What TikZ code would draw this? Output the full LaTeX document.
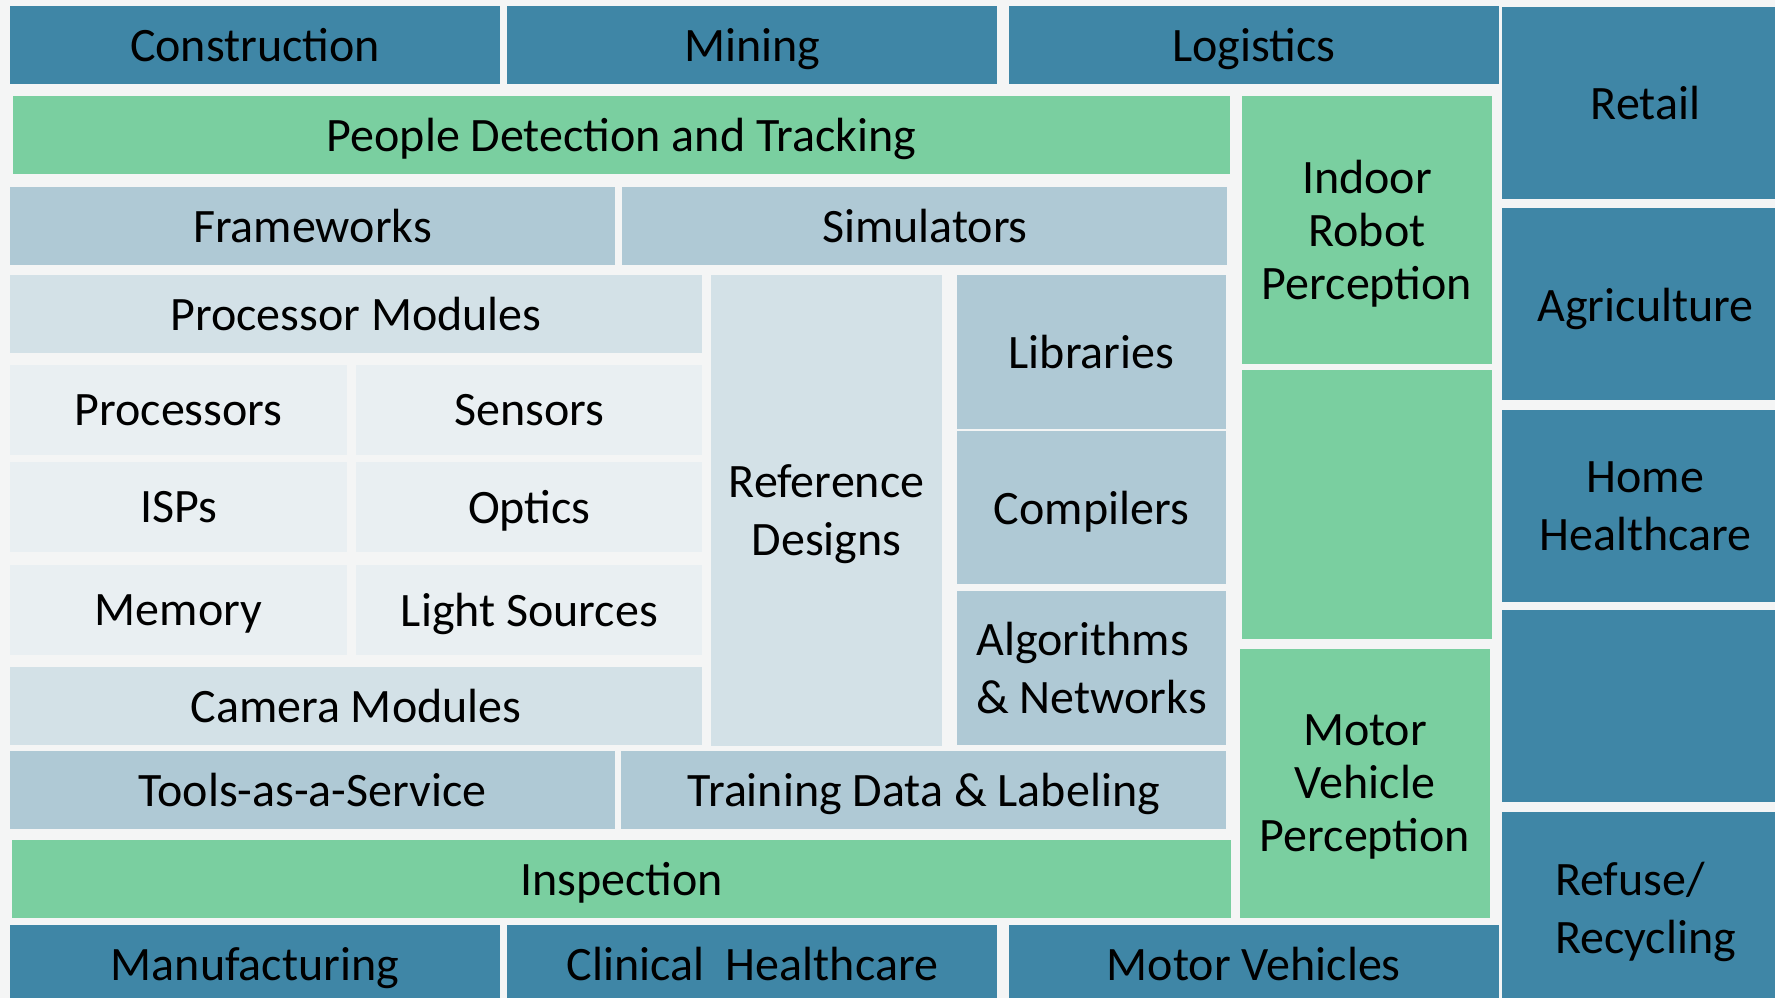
\documentclass[tikz,border=0pt]{standalone}
\usepackage{fontspec}
\setmainfont{Carlito}
\usepackage{xcolor}
\usepackage{tikz}
\usetikzlibrary{positioning}

\definecolor{industryblue}{HTML}{3F86A6}
\definecolor{appgreen}{HTML}{7ACFA0}
\definecolor{toolblue}{HTML}{AFC9D5}
\definecolor{moduleblue}{HTML}{D3E1E7}
\definecolor{partblue}{HTML}{E9EFF2}
\definecolor{backgray}{HTML}{F4F5F5}

\begin{document}
\begin{tikzpicture}[
x=1pt, y=-1pt,
cell/.style={rectangle, inner sep=0pt, align=center, text depth=0pt, font=\fontsize{48}{58}\selectfont},
industry/.style={cell, fill=industryblue},
app/.style={cell, fill=appgreen, font=\fontsize{48}{53}\selectfont},
tool/.style={cell, fill=toolblue},
module/.style={cell, fill=moduleblue},
part/.style={cell, fill=partblue},
wide/.style={minimum width=490pt, minimum height=78pt},
side/.style={minimum width=287pt, minimum height=192pt}
]
\useasboundingbox (0,0) rectangle (1775,998);
\fill[backgray] (0,0) rectangle (1775,998);

\node[industry, wide](constr) at (255,45){Construction};
\node[industry, wide](mining)[right=7pt of constr]{Mining};
\node[industry, wide](logist)[right=11pt of mining]{Logistics};
\node[industry, side](retail) at (1645.5,103){Retail};
\node[industry, side](agri)[below=9pt of retail]{Agriculture};
\node[industry, side](homecare)[below=9pt of agri]{Home\\Healthcare};
\node[industry, side](spare)[below=8pt of homecare]{};
\node[industry, side, align=left](refuse)[below=9pt of spare]{Refuse/\\Recycling};

\node[app, minimum width=1217pt, minimum height=78pt](people) at (621.5,135){People Detection and Tracking};
\node[app, minimum width=250pt, minimum height=268pt](indoor) at (1367,230){Indoor\\Robot\\Perception};
\node[app, minimum width=250pt, minimum height=269pt](greenspare)[below=6pt of indoor]{};
\node[app, minimum width=250pt, minimum height=269pt](motorperc) at (1365,783.5){Motor\\Vehicle\\Perception};
\node[app, minimum width=1219pt, minimum height=78pt](inspect) at (621.5,879){Inspection};

\node[tool, minimum width=605pt, minimum height=78pt](frameworks) at (312.5,226){Frameworks};
\node[tool, minimum width=605pt, minimum height=78pt](simulators)[right=7pt of frameworks]{Simulators};
\node[tool, minimum width=269pt, minimum height=154pt](libraries) at (1091.5,352){Libraries};
\node[tool, minimum width=269pt, minimum height=153pt](compilers)[below=2pt of libraries]{Compilers};
\node[tool, minimum width=269pt, minimum height=154pt, align=left](algos)[below=6pt of compilers]{Algorithms\\\& Networks};
\node[tool, minimum width=605pt, minimum height=78pt](taas) at (312.5,790){Tools-as-a-Service};
\node[tool, minimum width=605pt, minimum height=78pt](training)[right=6pt of taas]{Training Data \& Labeling};

\node[module, minimum width=692pt, minimum height=78pt](procmod) at (356,314){Processor Modules};
\node[module, minimum width=231pt, minimum height=471pt](refdes) at (826.5,510.5){Reference\\Designs};
\node[module, minimum width=692pt, minimum height=78pt](cammod) at (356,706){Camera Modules};

\node[part, minimum width=337pt, minimum height=90pt](processors) at (178.5,410){Processors};
\node[part, minimum width=346pt, minimum height=90pt](sensors)[right=9pt of processors]{Sensors};
\node[part, minimum width=337pt, minimum height=90pt](isps)[below=7pt of processors]{ISPs};
\node[part, minimum width=346pt, minimum height=90pt](optics)[right=9pt of isps]{Optics};
\node[part, minimum width=337pt, minimum height=90pt](memory)[below=12pt of isps]{Memory};
\node[part, minimum width=346pt, minimum height=90pt](lights)[right=9pt of memory]{Light Sources};

\node[industry, wide](manuf) at (255,964){Manufacturing};
\node[industry, wide](clinical)[right=7pt of manuf]{Clinical~ Healthcare};
\node[industry, wide](motorveh)[right=11pt of clinical]{Motor Vehicles};

\end{tikzpicture}
\end{document}
